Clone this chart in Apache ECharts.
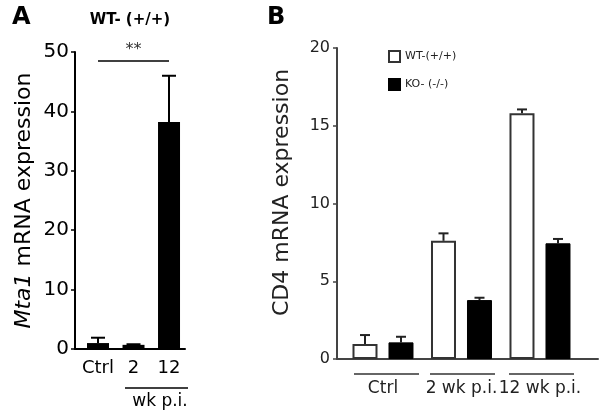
<!DOCTYPE html>
<html><head><meta charset="utf-8">
<script src="https://cdn.jsdelivr.net/npm/echarts@6/dist/echarts.min.js"></script>
<style>html,body{margin:0;padding:0;background:#fff}#c{width:601px;height:417px}</style>
</head><body><div id="c"></div>
<script>
// Panel A data
var catsA = ['Ctrl', '2', '12'];
var valsA = [1.0, 0.7, 38.2];
var errA = [0.9, 0.1, 7.8];
var ticksA = [0, 10, 20, 30, 40, 50];
// Panel B data
var catsB = ['Ctrl', '2 wk p.i.', '12 wk p.i.'];
var seriesNamesB = ['WT-(+/+)', 'KO- (-/-)'];
var wtB = [0.96, 7.6, 15.8];
var wtErrB = [0.58, 0.48, 0.25];
var koB = [1.07, 3.79, 7.44];
var koErrB = [0.36, 0.15, 0.28];
var ticksB = [0, 5, 10, 15, 20];

var FONT = 'DejaVu Sans';
function pairs(vals){ return vals.map(function(v,i){ return [i, v]; }); }
function triples(vals, errs){ return vals.map(function(v,i){ return [i, v, errs[i]]; }); }
function errItem(offsetPx, capW, color){
  return function(params, api){
    var x = api.value(0), v = api.value(1), e = api.value(2);
    var p0 = api.coord([x, v]);
    var p1 = api.coord([x, v + e]);
    var cx = p0[0] + offsetPx;
    return {type:'group', children:[
      {type:'line', shape:{x1:cx, y1:p0[1], x2:cx, y2:p1[1]}, style:{stroke:color, lineWidth:2}},
      {type:'line', shape:{x1:cx-capW/2, y1:p1[1], x2:cx+capW/2, y2:p1[1]}, style:{stroke:color, lineWidth:2}}
    ]};
  };
}

var chart = echarts.init(document.getElementById('c'));
chart.setOption({
  animation: false,
  textStyle: {fontFamily: FONT},
  grid: [
    {left: 75, top: 52, width: 110, height: 297},
    {left: 337, top: 48, width: 261, height: 311}
  ],
  legend: {
    data: seriesNamesB, orient: 'vertical', left: 383, top: 45, icon: 'rect',
    itemWidth: 11, itemHeight: 11, itemGap: 15,
    textStyle: {fontFamily: FONT, fontSize: 11, color: '#222'}
  },
  xAxis: [
    {type:'value', gridIndex:0, min:-0.648, max:2.45,
     axisLine:{show:true, onZero:false, lineStyle:{color:'#000', width:2}}, axisTick:{show:false}, splitLine:{show:false},
     axisLabel:{customValues:[0,1,2], formatter:function(v){return catsA[Math.round(v)];}, fontSize:18, color:'#000', margin:10, fontFamily:FONT}},
    {type:'value', gridIndex:1, min:-0.586, max:2.739,
     axisLine:{show:true, onZero:false, lineStyle:{color:'#444', width:2}}, axisTick:{show:false}, splitLine:{show:false},
     axisLabel:{customValues:[0,1,2], formatter:function(v){return catsB[Math.round(v)];}, fontSize:17, color:'#222', margin:21, fontFamily:FONT}}
  ],
  yAxis: [
    {type:'value', gridIndex:0, min:0, max:50, interval:10,
     axisLine:{show:true, onZero:false, lineStyle:{color:'#000', width:2}}, axisTick:{show:true, length:4, lineStyle:{color:'#000', width:1.5}},
     splitLine:{show:false},
     axisLabel:{fontSize:20, color:'#000', margin:6, fontFamily:FONT},
     name:'{i|Mta1} mRNA expression', nameLocation:'middle', nameRotate:90, nameGap:40,
     nameTextStyle:{fontSize:22, color:'#000', fontFamily:FONT, rich:{i:{fontStyle:'italic', fontSize:22, fontFamily:FONT}}}},
    {type:'value', gridIndex:1, min:0, max:20, interval:5,
     axisLine:{show:true, onZero:false, lineStyle:{color:'#444', width:2}}, axisTick:{show:true, length:4, lineStyle:{color:'#444', width:1.5}},
     splitLine:{show:false},
     axisLabel:{fontSize:16, color:'#222', margin:7, fontFamily:FONT},
     name:'CD4 mRNA expression', nameLocation:'middle', nameRotate:90, nameGap:44,
     nameTextStyle:{fontSize:22, color:'#222', fontFamily:FONT, padding:[0,0,0,22]}}
  ],
  series: [
    {type:'bar', name:'A', xAxisIndex:0, yAxisIndex:0, data:pairs(valsA), barWidth:22,
     itemStyle:{color:'#000'},
     markLine:{symbol:'none', silent:true, lineStyle:{color:'#000', width:1.5, type:'solid'},
       label:{show:true, position:'middle', formatter:'**', fontSize:16, color:'#333', distance:3},
       data:[[{coord:[0,48.5]},{coord:[2,48.5]}]]}},
    {type:'custom', xAxisIndex:0, yAxisIndex:0, data:triples(valsA, errA), renderItem:errItem(0, 14, '#000'), z:1},
    {type:'bar', name:seriesNamesB[0], xAxisIndex:1, yAxisIndex:1, data:pairs(wtB), barWidth:25, barGap:'44%',
     itemStyle:{color:'#fff', borderColor:'#333', borderWidth:2}},
    {type:'bar', name:seriesNamesB[1], xAxisIndex:1, yAxisIndex:1, data:pairs(koB), barWidth:25, barGap:'44%',
     itemStyle:{color:'#000', borderColor:'#000', borderWidth:1}},
    {type:'custom', xAxisIndex:1, yAxisIndex:1, data:triples(wtB, wtErrB), renderItem:errItem(-18, 10, '#222'), z:1},
    {type:'custom', xAxisIndex:1, yAxisIndex:1, data:triples(koB, koErrB), renderItem:errItem(18, 10, '#222'), z:1}
  ],
  graphic: [
    {type:'text', left:12, top:6, style:{text:'A', font:'bold 24px "DejaVu Sans"', fill:'#000'}},
    {type:'text', left:267, top:6, style:{text:'B', font:'bold 24px "DejaVu Sans"', fill:'#000'}},
    {type:'text', x:130, y:20, style:{text:'WT- (+/+)', font:'bold 15px "DejaVu Sans"', fill:'#000', textAlign:'center', textVerticalAlign:'middle'}},
    {type:'line', shape:{x1:125, y1:388, x2:188, y2:388}, style:{stroke:'#000', lineWidth:1.5}},
    {type:'text', x:160, y:402, style:{text:'wk p.i.', font:'17px "DejaVu Sans"', fill:'#000', textAlign:'center', textVerticalAlign:'middle'}},
    {type:'line', shape:{x1:354, y1:374, x2:419, y2:374}, style:{stroke:'#333', lineWidth:1.5}},
    {type:'line', shape:{x1:430, y1:374, x2:495, y2:374}, style:{stroke:'#333', lineWidth:1.5}},
    {type:'line', shape:{x1:509, y1:374, x2:574, y2:374}, style:{stroke:'#333', lineWidth:1.5}}
  ]
});
</script></body></html>
